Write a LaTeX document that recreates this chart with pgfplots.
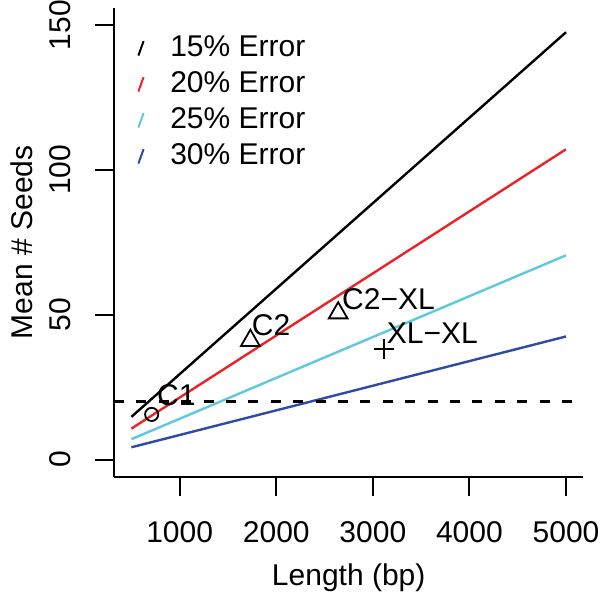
\documentclass[border=0pt]{standalone}
\usepackage{fontspec}
\setmainfont{Liberation Sans}
\usepackage{pgfplots}
\pgfplotsset{compat=1.18}
\definecolor{err15}{RGB}{0,0,0}
\definecolor{err20}{RGB}{235,35,40}
\definecolor{err25}{RGB}{95,200,220}
\definecolor{err30}{RGB}{45,75,165}

\begin{document}
\fontsize{15}{18}\selectfont
\begin{tikzpicture}
\useasboundingbox (0pt,0pt) rectangle (300pt,297pt);
\begin{axis}[
  at={(57pt,58.5pt)}, anchor=south west,
  scale only axis, width=234.7pt, height=234.7pt,
  xmin=320, xmax=5180, ymin=-6, ymax=156,
  axis x line*=bottom, axis y line*=left,
  axis line style={line width=1pt, -},
  tick style={line width=1pt, black},
  tick align=outside, major tick length=9.3pt,
  xtick={1000,2000,3000,4000,5000},
  xticklabels={1000,2000,3000,4000,5000},
  ytick={0,50,100,150},
  yticklabels={0,50,100,150},
  xticklabel style={anchor=base},
  xticklabel shift=23.3pt,
  yticklabel style={rotate=90, anchor=base},
  yticklabel shift=12.5pt,
  xlabel={Length (bp)},
  ylabel={Mean \# Seeds},
  xlabel style={at={(axis description cs:0.5,-0.2152)}, anchor=center},
  ylabel style={at={(axis description cs:-0.196,0.5)}, anchor=center},
  legend style={at={(axis cs:562,148.7)}, anchor=north west,
    draw=none, fill=none, inner sep=0pt, outer sep=0pt,
    row sep=0pt, column sep=0pt,
    nodes={inner sep=0pt, text height=14pt, text depth=4pt}},
  legend cell align=left,
  legend image code/.code={
    \draw[line width=1pt] (-1.3pt,-4.4pt) -- (1.3pt,2.8pt);
    \path[draw=none] (0pt,0pt) -- (14.65pt,0pt);
  },
  clip=false,
]
\addplot[err15, line width=1.2pt] coordinates {(500,14.75) (5000,147.5)};
\addlegendentry{15\% Error}
\addplot[err20, line width=1.2pt] coordinates {(500,10.7) (5000,107.1)};
\addlegendentry{20\% Error}
\addplot[err25, line width=1.2pt] coordinates {(500,7.05) (5000,70.5)};
\addlegendentry{25\% Error}
\addplot[err30, line width=1.2pt] coordinates {(500,4.25) (5000,42.5)};
\addlegendentry{30\% Error}

% threshold
\addplot[black, line width=1.2pt, dash pattern=on 5pt off 6.2pt, forget plot]
  coordinates {(320,20) (5180,20)};

% samples
\addplot[only marks, mark=o, mark size=3.3pt, mark options={line width=0.9pt}, black, forget plot]
  coordinates {(710,15.6)};
\addplot[only marks, mark=triangle, mark size=5.4pt, mark options={line width=0.9pt}, black, forget plot]
  coordinates {(1732,41.1) (2641,50.6)};
\addplot[only marks, mark=+, mark size=5pt, mark options={line width=0.9pt}, black, forget plot]
  coordinates {(3117,38.3)};

\node[anchor=base west, inner sep=0pt] at (axis cs:762,18.7) {C1};
\node[anchor=base west, inner sep=0pt] at (axis cs:1743,42.9) {C2};
\node[anchor=base west, inner sep=0pt] at (axis cs:2679,51.7) {C2−XL};
\node[anchor=base west, inner sep=0pt] at (axis cs:3142,40.2) {XL−XL};
\end{axis}
\end{tikzpicture}
\end{document}
